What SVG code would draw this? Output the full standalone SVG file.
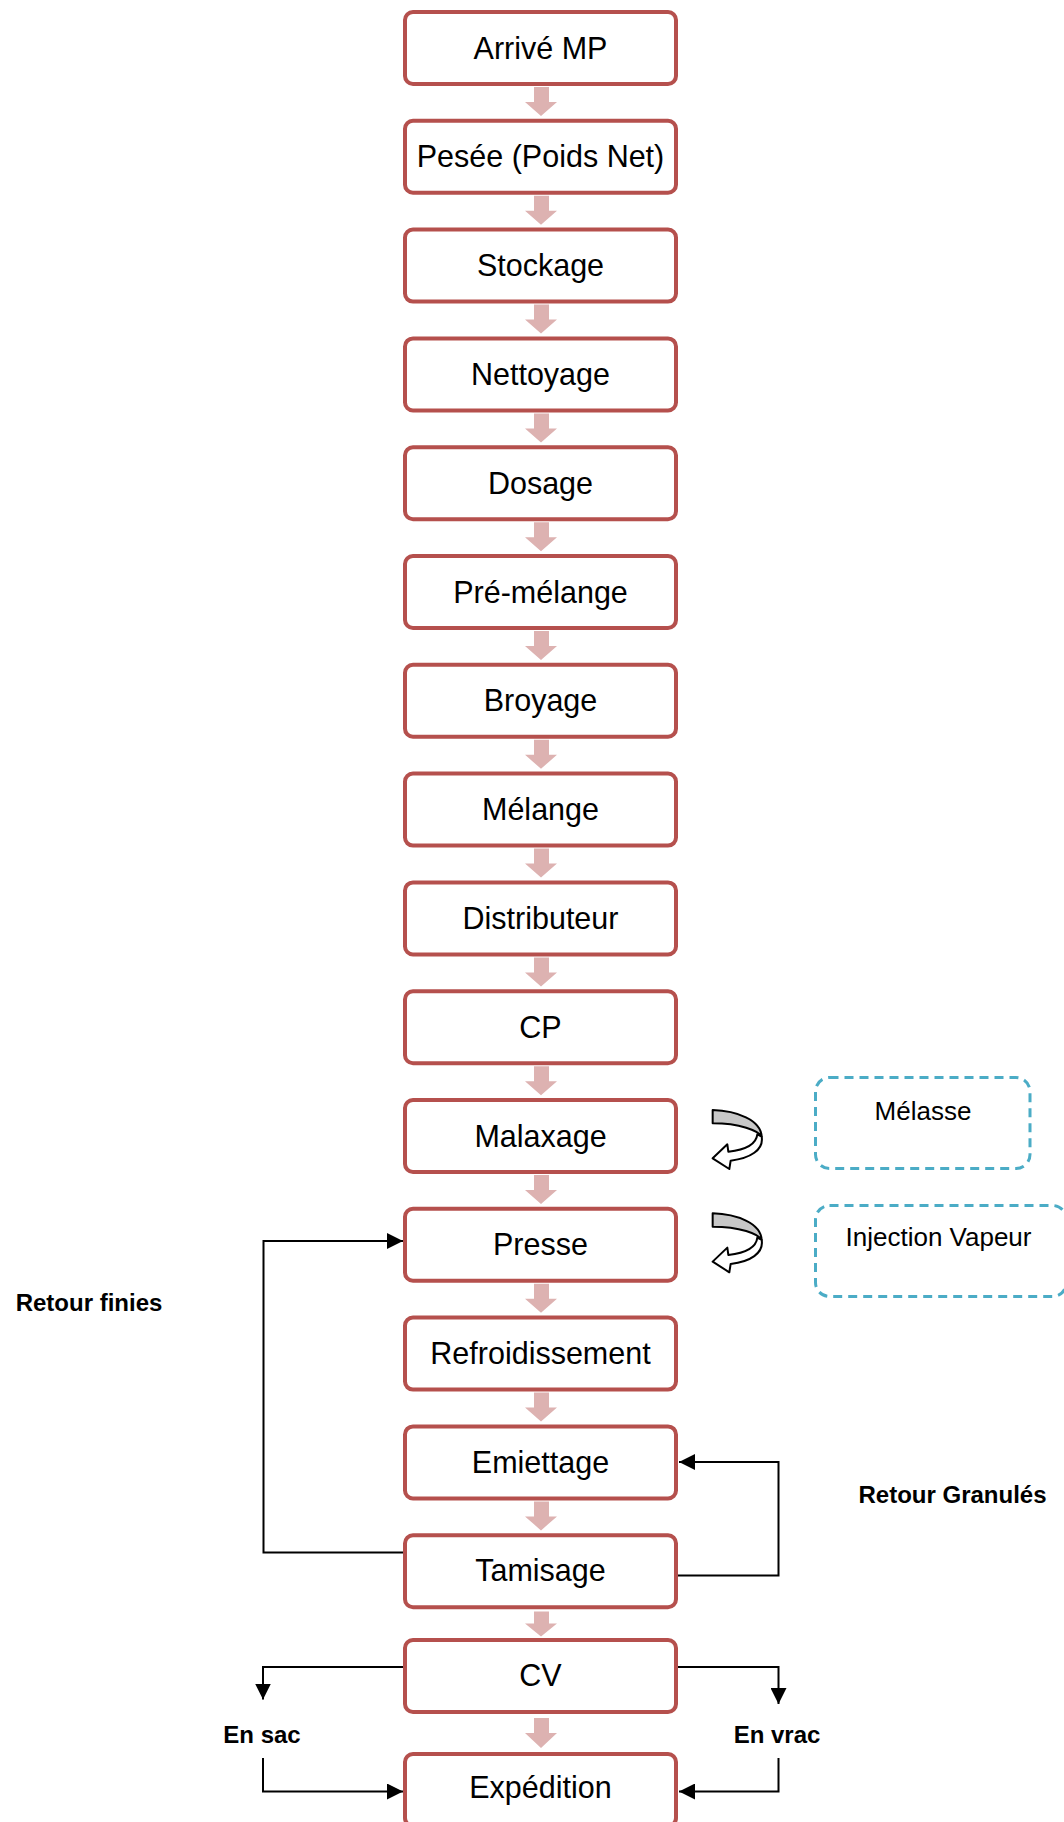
<svg xmlns="http://www.w3.org/2000/svg" xmlns:xlink="http://www.w3.org/1999/xlink" width="1064" height="1822" viewBox="0 0 1064 1822">
<style>
.box{fill:#fff;stroke:#b5504d;stroke-width:4}
.lbl{font-family:"Liberation Sans",Arial,sans-serif;font-size:30.5px;fill:#000;text-anchor:middle}
.bold{font-family:"Liberation Sans",Arial,sans-serif;font-size:24px;font-weight:bold;fill:#000;text-anchor:middle}
.side{font-family:"Liberation Sans",Arial,sans-serif;font-size:26px;fill:#000;text-anchor:middle}
.dash{fill:#fff;stroke:#4bacc6;stroke-width:3;stroke-dasharray:9 6}
.flow{fill:#ddb2b1}
.conn{fill:none;stroke:#000;stroke-width:2;marker-end:url(#ah)}
</style>
<defs>
<marker id="ah" viewBox="0 0 10 10" refX="10" refY="5" markerWidth="16" markerHeight="16" markerUnits="userSpaceOnUse" orient="auto">
<path d="M0,0 L10,5 L0,10 z" fill="#000"/>
</marker>
<g id="uturn">
<path d="M38,60 C110,62 183,90 185,140 C175,122 120,100 38,100 Z" fill="#c8c8c8" stroke="#000" stroke-width="6" stroke-linejoin="round"/>
<path d="M185,140 C192,180 150,205 92,212 L88,237 L38,205 L82,163 L85,185 C130,180 168,168 172,133 Z" fill="#fff" stroke="#000" stroke-width="6" stroke-linejoin="round"/>
</g>
</defs>
<rect width="1064" height="1822" fill="#fff"/>

<g id="flow-arrows">
<path class="flow" d="M534,87 H549 V102 H557 L541,116 L525,102 H534 Z"/>
<path class="flow" d="M534,195.8 H549 V210.8 H557 L541,224.8 L525,210.8 H534 Z"/>
<path class="flow" d="M534,304.6 H549 V319.6 H557 L541,333.6 L525,319.6 H534 Z"/>
<path class="flow" d="M534,413.4 H549 V428.4 H557 L541,442.4 L525,428.4 H534 Z"/>
<path class="flow" d="M534,522.2 H549 V537.2 H557 L541,551.2 L525,537.2 H534 Z"/>
<path class="flow" d="M534,631 H549 V646 H557 L541,660 L525,646 H534 Z"/>
<path class="flow" d="M534,739.8 H549 V754.8 H557 L541,768.8 L525,754.8 H534 Z"/>
<path class="flow" d="M534,848.6 H549 V863.6 H557 L541,877.6 L525,863.6 H534 Z"/>
<path class="flow" d="M534,957.4 H549 V972.4 H557 L541,986.4 L525,972.4 H534 Z"/>
<path class="flow" d="M534,1066.2 H549 V1081.2 H557 L541,1095.2 L525,1081.2 H534 Z"/>
<path class="flow" d="M534,1175 H549 V1190 H557 L541,1204 L525,1190 H534 Z"/>
<path class="flow" d="M534,1283.8 H549 V1298.8 H557 L541,1312.8 L525,1298.8 H534 Z"/>
<path class="flow" d="M534,1392.6 H549 V1407.6 H557 L541,1421.6 L525,1407.6 H534 Z"/>
<path class="flow" d="M534,1501.4 H549 V1516.4 H557 L541,1530.4 L525,1516.4 H534 Z"/>
<path class="flow" d="M534,1611.5 H549 V1623.5 H557 L541,1636.5 L525,1623.5 H534 Z"/>
<path class="flow" d="M534,1718 H549 V1733 H557 L541,1748 L525,1733 H534 Z"/>
</g>

<g id="n1"><rect class="box" x="405" y="12" width="271" height="72" rx="8"/><text class="lbl" x="540.5" y="58.5">Arrivé MP</text></g>
<g id="n2"><rect class="box" x="405" y="120.8" width="271" height="72" rx="8"/><text class="lbl" x="540.5" y="167.3">Pesée (Poids Net)</text></g>
<g id="n3"><rect class="box" x="405" y="229.6" width="271" height="72" rx="8"/><text class="lbl" x="540.5" y="276.1">Stockage</text></g>
<g id="n4"><rect class="box" x="405" y="338.4" width="271" height="72" rx="8"/><text class="lbl" x="540.5" y="384.9">Nettoyage</text></g>
<g id="n5"><rect class="box" x="405" y="447.2" width="271" height="72" rx="8"/><text class="lbl" x="540.5" y="493.7">Dosage</text></g>
<g id="n6"><rect class="box" x="405" y="556" width="271" height="72" rx="8"/><text class="lbl" x="540.5" y="602.5">Pré-mélange</text></g>
<g id="n7"><rect class="box" x="405" y="664.8" width="271" height="72" rx="8"/><text class="lbl" x="540.5" y="711.3">Broyage</text></g>
<g id="n8"><rect class="box" x="405" y="773.6" width="271" height="72" rx="8"/><text class="lbl" x="540.5" y="820.1">Mélange</text></g>
<g id="n9"><rect class="box" x="405" y="882.4" width="271" height="72" rx="8"/><text class="lbl" x="540.5" y="928.9">Distributeur</text></g>
<g id="n10"><rect class="box" x="405" y="991.2" width="271" height="72" rx="8"/><text class="lbl" x="540.5" y="1037.7">CP</text></g>
<g id="n11"><rect class="box" x="405" y="1100" width="271" height="72" rx="8"/><text class="lbl" x="540.5" y="1146.5">Malaxage</text></g>
<g id="n12"><rect class="box" x="405" y="1208.8" width="271" height="72" rx="8"/><text class="lbl" x="540.5" y="1255.3">Presse</text></g>
<g id="n13"><rect class="box" x="405" y="1317.6" width="271" height="72" rx="8"/><text class="lbl" x="540.5" y="1364.1">Refroidissement</text></g>
<g id="n14"><rect class="box" x="405" y="1426.4" width="271" height="72" rx="8"/><text class="lbl" x="540.5" y="1472.9">Emiettage</text></g>
<g id="n15"><rect class="box" x="405" y="1535.2" width="271" height="72" rx="8"/><text class="lbl" x="540.5" y="1581.2">Tamisage</text></g>
<g id="n16"><rect class="box" x="405" y="1640" width="271" height="72" rx="8"/><text class="lbl" x="540.5" y="1686">CV</text></g>
<g id="n17"><rect class="box" x="405" y="1754" width="271" height="72" rx="8"/><text class="lbl" x="540.5" y="1798">Expédition</text></g>

<g id="melasse"><rect class="dash" x="815.5" y="1077.5" width="214.5" height="91" rx="14"/><text class="side" x="923" y="1120">Mélasse</text></g>
<g id="vapeur"><rect class="dash" x="815.5" y="1205.5" width="251" height="91" rx="14"/><text class="side" x="938.5" y="1245.5">Injection Vapeur</text></g>

<g id="uturn-arrows">
<use xlink:href="#uturn" href="#uturn" transform="translate(700,1090) scale(0.3333)"/>
<use xlink:href="#uturn" href="#uturn" transform="translate(700,1193.3) scale(0.3333)"/>
</g>

<g id="connectors">
<path class="conn" d="M403,1552.5 H263.5 V1241 H403"/>
<path class="conn" d="M678,1575.5 H778.5 V1462 H679"/>
<path class="conn" d="M678,1667 H778.5 V1704"/>
<path class="conn" d="M778.5,1758 V1791.5 H679"/>
<path class="conn" d="M403,1667 H263 V1699.5"/>
<path class="conn" d="M263,1758 V1791.5 H403"/>
</g>

<g id="labels">
<text class="bold" x="89" y="1310.5">Retour finies</text>
<text class="bold" x="952.5" y="1502.5">Retour Granulés</text>
<text class="bold" x="262" y="1742.5">En sac</text>
<text class="bold" x="777" y="1742.5">En vrac</text>
</g>
</svg>
